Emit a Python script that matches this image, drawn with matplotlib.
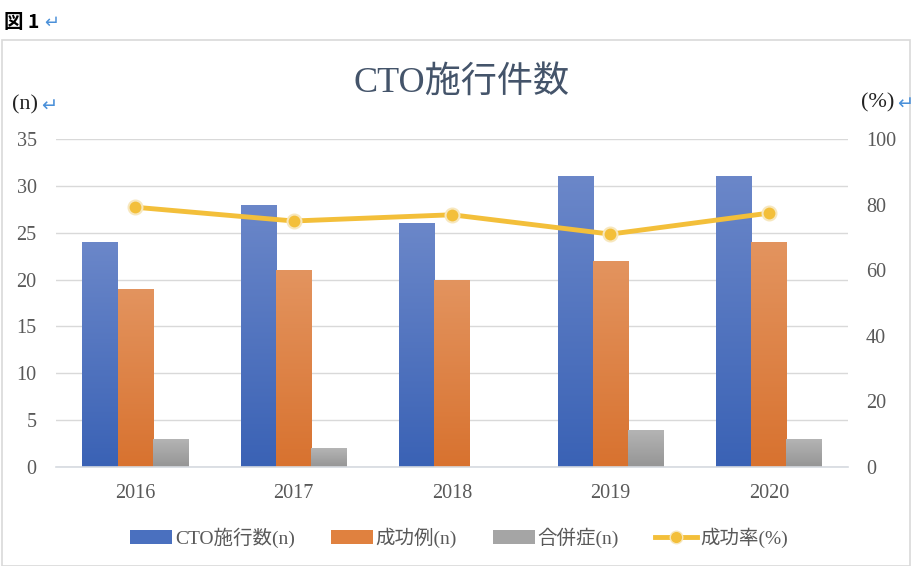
import matplotlib
matplotlib.use("Agg")
import matplotlib.pyplot as plt
import numpy as np
from matplotlib.patches import Rectangle, Patch
from matplotlib.lines import Line2D
from matplotlib.colors import LinearSegmentedColormap

years = ["2016", "2017", "2018", "2019", "2020"]
cto_total = [24, 28, 26, 31, 31]
success = [19, 21, 20, 22, 24]
complication = [3, 2, 0, 4, 3]
success_rate = [79.2, 75.0, 76.9, 71.0, 77.4]

left_ticks = [0, 5, 10, 15, 20, 25, 30, 35]
right_ticks = [0, 20, 40, 60, 80, 100]

SERIF = ["Liberation Serif", "Noto Sans CJK JP"]
TXT = "#595959"

fig = plt.figure(figsize=(9.12, 5.66), dpi=100)
fig.patch.set_facecolor("white")

# chart border
fig.patches.append(Rectangle((2 / 912, 0), 908 / 912, 1 - 40 / 566, transform=fig.transFigure,
                             fill=False, edgecolor="#d9d9d9", lw=1.2))

ax = fig.add_axes([56 / 912, 1 - 467 / 566, 792 / 912, 328 / 566])
ax2 = ax.twinx()
ax.set_zorder(1)
ax2.set_zorder(2)
ax.patch.set_visible(False)

x = np.arange(len(years))
w = 0.222
series = [
    (cto_total, -w, ("#6b87c9", "#3a62b5")),
    (success, 0, ("#e3945f", "#d8722f")),
    (complication, w, ("#b5b5b5", "#959595")),
]
for vals, off, (top, bot) in series:
    bars = ax.bar(x + off, vals, width=w, color=bot, linewidth=0, zorder=2)
    cmap = LinearSegmentedColormap.from_list("g", [bot, top])
    grad = np.linspace(0, 1, 256).reshape(-1, 1)
    for b in bars:
        h = b.get_height()
        if h <= 0:
            continue
        bx = b.get_x()
        im = ax.imshow(grad, cmap=cmap, origin="lower", aspect="auto",
                       extent=[bx, bx + b.get_width(), 0, h], zorder=2.5)
        im.set_clip_path(b)

ax.set_xlim(-0.5, 4.5)
ax.set_ylim(0, 35)
ax.set_yticks(left_ticks)
ax.set_xticks(x)
ax.set_xticklabels(years)
ax.grid(axis="y", color="#d9d9d9", lw=1.0, zorder=0)
ax.set_axisbelow(True)
for s in ["top", "right", "left"]:
    ax.spines[s].set_visible(False)
ax.spines["bottom"].set_color("#d6dae0")
ax.spines["bottom"].set_linewidth(1.2)
ax.tick_params(axis="both", length=0, colors=TXT, labelsize=14.5)
ax.tick_params(axis="y", pad=14)
ax.tick_params(axis="x", pad=12)
for lab in ax.get_xticklabels() + ax.get_yticklabels():
    lab.set_fontfamily(SERIF)

ax2.plot(x, success_rate, color="#f3bf3a", lw=3.5, marker="o", markersize=10,
         markerfacecolor="#f3bf3a", markeredgecolor="#f7e7bd", markeredgewidth=1.5,
         solid_capstyle="round", zorder=5)
ax2.set_ylim(0, 100)
ax2.set_yticks(right_ticks)
for s in ax2.spines.values():
    s.set_visible(False)
ax2.tick_params(axis="y", length=0, colors=TXT, labelsize=14.5, pad=13)
for lab in ax2.get_yticklabels():
    lab.set_fontfamily(SERIF)

fig.text(462 / 912, 1 - 83 / 566, "CTO施行件数", ha="center", va="center",
         fontsize=26, color="#44546a", family=SERIF)

fig.text(12 / 912, 1 - 105 / 566, "(n)", ha="left", va="center", fontsize=16,
         color="#222222", family=SERIF)
fig.text(41 / 912, 1 - 106 / 566, "↵", ha="left", va="center", fontsize=14,
         color="#4a90d9", family=["DejaVu Sans"])
fig.text(861 / 912, 1 - 103 / 566, "(%)", ha="left", va="center", fontsize=16,
         color="#222222", family=SERIF)
fig.text(897 / 912, 1 - 104 / 566, "↵", ha="left", va="center", fontsize=14,
         color="#4a90d9", family=["DejaVu Sans"])

fig.text(4 / 912, 1 - 22 / 566, "図 1", ha="left", va="center", fontsize=14,
         fontweight="bold", color="#000000", family=["Noto Sans CJK JP", "DejaVu Sans"])
fig.text(44 / 912, 1 - 23 / 566, "↵", ha="left", va="center", fontsize=13,
         color="#4a90d9", family=["DejaVu Sans"])

handles = [
    Patch(facecolor="#4a70bf", edgecolor="none"),
    Patch(facecolor="#e0813f", edgecolor="none"),
    Patch(facecolor="#a5a5a5", edgecolor="none"),
    Line2D([0], [0], color="#f3bf3a", lw=3.5, marker="o", markersize=9,
           markerfacecolor="#f3bf3a", markeredgecolor="#f7e7bd"),
]
labels = ["CTO施行数(n)", "成功例(n)", "合併症(n)", "成功率(%)"]
leg = fig.legend(handles, labels, loc="center", bbox_to_anchor=(459 / 912, 1 - 538 / 566),
                 ncol=4, frameon=False, handlelength=2.15, handleheight=0.75,
                 handletextpad=0.15, columnspacing=1.85,
                 prop={"family": SERIF, "size": 14})
for t in leg.get_texts():
    t.set_color(TXT)

fig.savefig("out.png", dpi=100)
